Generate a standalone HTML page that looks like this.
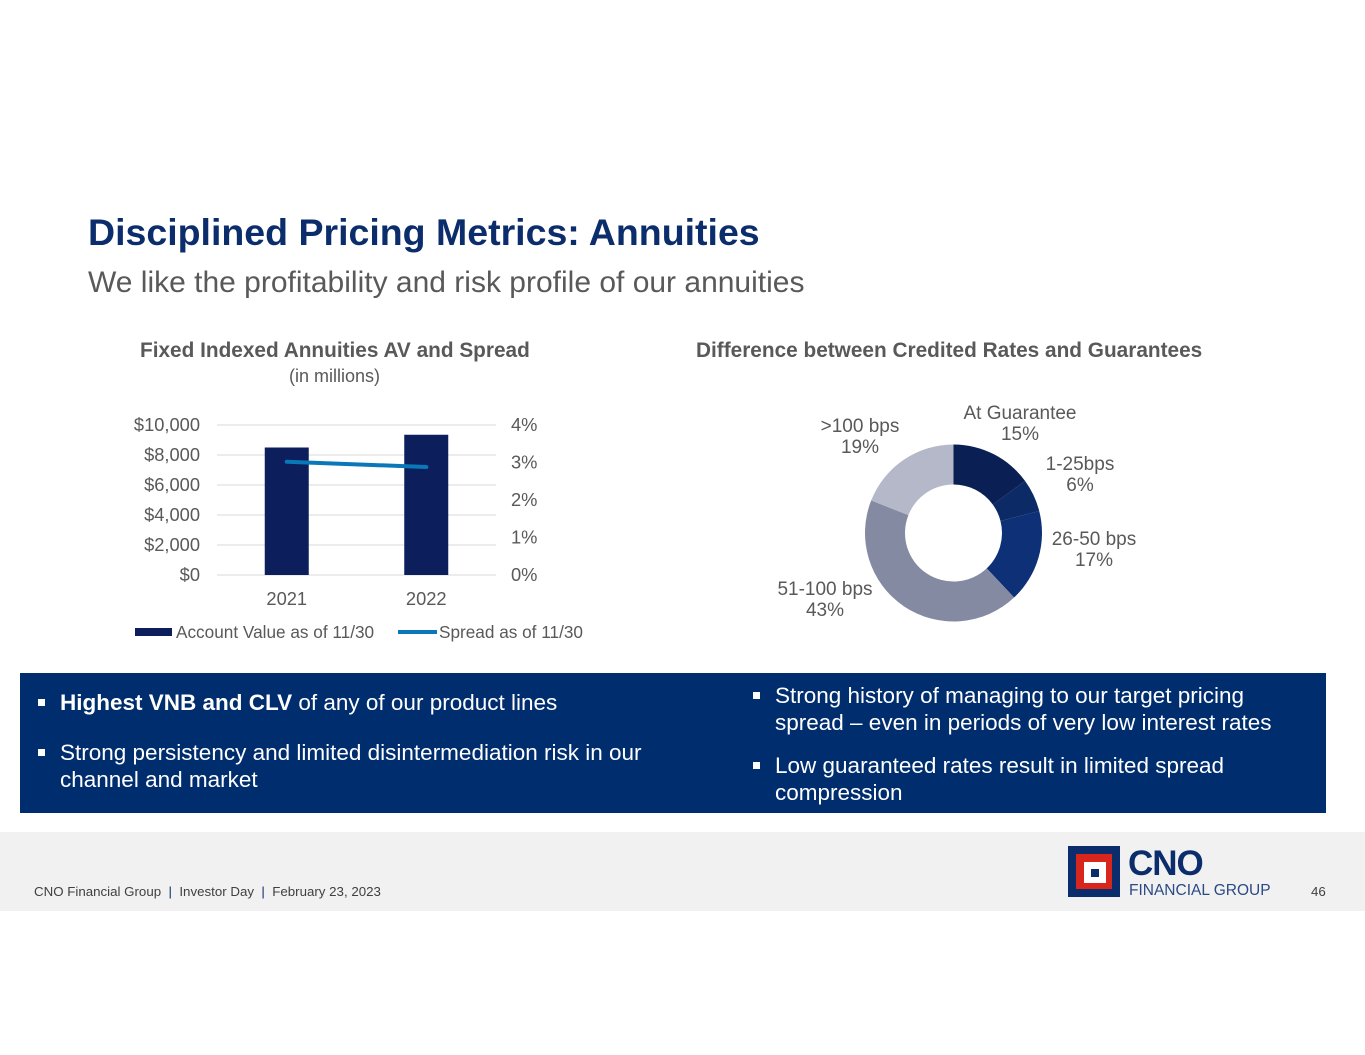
<!DOCTYPE html>
<html><head><meta charset="utf-8"><style>
body{margin:0;width:1365px;height:1055px;background:#fff;font-family:"Liberation Sans",Arial,sans-serif;position:relative;overflow:hidden}
.a{position:absolute;white-space:nowrap}
.bul{position:absolute;color:#fff;font-size:22.5px;line-height:27px}
.bul .sq{position:absolute;left:-22px;top:10px;width:7px;height:7px;background:#fff}
</style></head><body>
<div class="a" style="left:88px;top:211px;font-size:37.5px;font-weight:bold;color:#0c2d6b">Disciplined Pricing Metrics: Annuities</div>
<div class="a" style="left:88px;top:266px;font-size:30px;color:#595959">We like the profitability and risk profile of our annuities</div>
<div class="a" style="left:140px;top:339px;font-size:20.8px;font-weight:bold;color:#595959">Fixed Indexed Annuities AV and Spread</div>
<div class="a" style="left:289px;top:366px;font-size:18px;color:#595959">(in millions)</div>
<div class="a" style="left:696px;top:339px;font-size:20.8px;font-weight:bold;color:#595959">Difference between Credited Rates and Guarantees</div>
<svg id="bar" class="a" style="left:0;top:0" width="700" height="660"></svg>
<svg id="pie" class="a" style="left:700px;top:380px" width="500" height="260"></svg>
<div class="a" style="left:20px;top:673px;width:1306px;height:140px;background:#002d6e"></div>
<div class="bul" style="left:60px;top:689px;width:620px"><span class="sq"></span><b>Highest VNB and CLV</b> of any of our product lines</div>
<div class="bul" style="left:60px;top:739px;width:620px"><span class="sq"></span>Strong persistency and limited disintermediation risk in our channel and market</div>
<div class="bul" style="left:775px;top:682px;width:520px"><span class="sq"></span>Strong history of managing to our target pricing spread – even in periods of very low interest rates</div>
<div class="bul" style="left:775px;top:752px;width:520px"><span class="sq"></span>Low guaranteed rates result in limited spread compression</div>
<div class="a" style="left:0;top:832px;width:1365px;height:79px;background:#f1f1f1"></div>
<div class="a" style="left:34px;top:884px;font-size:13.3px;color:#404040">CNO Financial Group &nbsp;<span style="color:#0c2d6b">|</span>&nbsp; Investor Day &nbsp;<span style="color:#0c2d6b">|</span>&nbsp; February 23, 2023</div>
<div class="a" style="left:1311px;top:884px;font-size:13.3px;color:#404040">46</div>
<div class="a" style="left:1068px;top:846px;width:52px;height:51px;background:#0c2d6b">
 <div class="a" style="left:8px;top:8px;width:36px;height:35px;background:#d8261c"></div>
 <div class="a" style="left:16px;top:16px;width:22px;height:21px;background:#fff"></div>
 <div class="a" style="left:23px;top:23px;width:8px;height:8px;background:#0c2d6b"></div>
</div>
<div class="a" style="left:1128px;top:844px;font-size:35px;font-weight:bold;color:#0c2d6b;letter-spacing:-1px">CNO</div>
<div class="a" style="left:1129px;top:882px;font-size:15.5px;color:#2a4a85">FINANCIAL GROUP</div>
<script>
const NS="http://www.w3.org/2000/svg";
function mk(p,t,a){const e=document.createElementNS(NS,t);for(const k in a)e.setAttribute(k,a[k]);p.appendChild(e);return e;}
const categories=["2021","2022"];
const accountValues=[8500,9350];
const spreadValues=[3.02,2.88];
const leftTicks=["$0","$2,000","$4,000","$6,000","$8,000","$10,000"];
const rightTicks=["0%","1%","2%","3%","4%"];
const bar=document.getElementById('bar');
const x0=217,x1=496,yb=575,yt=425;
const yL=v=>yb-(v/10000)*(yb-yt), yR=v=>yb-(v/4)*(yb-yt);
const xc=i=>x0+(x1-x0)*(i+0.5)/categories.length;
leftTicks.forEach((t,i)=>{const v=i*2000;
 const g=mk(bar,'line',{x1:x0,x2:x1,y1:yL(v),y2:yL(v),stroke:'#d9d9d9','stroke-width':1});
 
 const tx=mk(bar,'text',{x:200,y:yL(v)+6,'text-anchor':'end','font-size':18.3,fill:'#595959'});tx.textContent=t;
 });
rightTicks.forEach((t,i)=>{const tx=mk(bar,'text',{x:511,y:yR(i)+6,'font-size':18.3,fill:'#595959'});tx.textContent=t;
 });
categories.forEach((c,i)=>{const r=mk(bar,'rect',{x:xc(i)-22,y:yL(accountValues[i]),width:44,height:yb-yL(accountValues[i]),fill:'#0c1f5c'});
 
 const tx=mk(bar,'text',{x:xc(i),y:605,'text-anchor':'middle','font-size':18.3,fill:'#595959'});tx.textContent=c;
 });
const pl=mk(bar,'polyline',{points:spreadValues.map((v,i)=>xc(i)+','+yR(v)).join(' '),fill:'none',stroke:'#0a78b8','stroke-width':4,'stroke-linecap':'round'});

let l=mk(bar,'rect',{x:135,y:628,width:37,height:8,fill:'#0c1f5c'});
l=mk(bar,'text',{x:176,y:638,'font-size':17.2,fill:'#595959'});l.textContent='Account Value as of 11/30';
l=mk(bar,'line',{x1:398,x2:437,y1:632,y2:632,stroke:'#0a78b8','stroke-width':4});
l=mk(bar,'text',{x:439,y:638,'font-size':17.2,fill:'#595959'});l.textContent='Spread as of 11/30';

const sliceLabels=["At Guarantee","1-25bps","26-50 bps","51-100 bps",">100 bps"];
const sliceValues=[15,6,17,43,19];
const sliceColors=["#0a2054","#0b2a66","#0d3077","#858aa3","#b5b8c8"];
const labelPos=[[320,39],[380,90],[394,165],[125,215],[160,52]];
const pie=document.getElementById('pie');
const cx=253.5,cy=153,R=88.5,r=48.5;
const tot=sliceValues.reduce((a,b)=>a+b,0);let acc=0;
sliceValues.forEach((v,i)=>{const a0=acc/tot*2*Math.PI;acc+=v;const a1=acc/tot*2*Math.PI;
 const P=(a,rad)=>[cx+rad*Math.sin(a),cy-rad*Math.cos(a)];const lg=(a1-a0)>Math.PI?1:0;
 const [ax,ay]=P(a0,R),[bx,by]=P(a1,R),[cx1,cy1]=P(a1,r),[dx,dy]=P(a0,r);
 const p=mk(pie,'path',{d:`M${ax},${ay}A${R},${R} 0 ${lg} 1 ${bx},${by}L${cx1},${cy1}A${r},${r} 0 ${lg} 0 ${dx},${dy}Z`,fill:sliceColors[i]});
 
 const t=mk(pie,'text',{x:labelPos[i][0],y:labelPos[i][1],'text-anchor':'middle','font-size':19,fill:'#595959'});
 
 const s1=mk(t,'tspan',{x:labelPos[i][0],dy:0});s1.textContent=sliceLabels[i];
 const s2=mk(t,'tspan',{x:labelPos[i][0],dy:21});s2.textContent=v+'%';});
</script>
</body></html>
